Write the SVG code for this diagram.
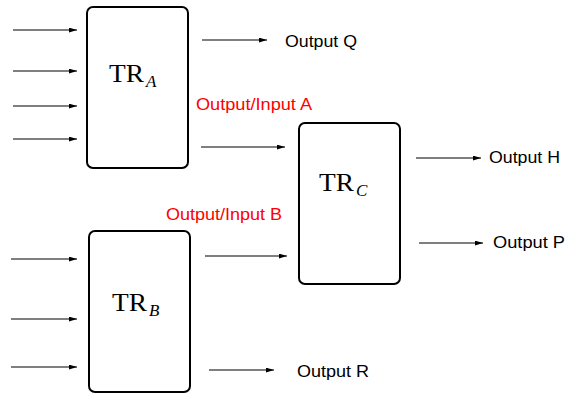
<svg xmlns="http://www.w3.org/2000/svg" width="565" height="394" viewBox="0 0 565 394">
<style>
.box{fill:#fff;stroke:#000;stroke-width:2}
.c line{stroke:#000;stroke-width:1.2}
.lbl{font-family:"Liberation Sans",Arial,sans-serif;font-size:16px;fill:#000}
.red{fill:#ff0000}
.tr{font-family:"Liberation Serif","DejaVu Serif",serif;font-size:26px;fill:#000}
.sub{font-family:"Liberation Serif","DejaVu Serif",serif;font-style:italic;font-size:17px}
</style>
<defs>
<marker id="ah" viewBox="0 0 10 6" refX="10" refY="3" markerWidth="8" markerHeight="5" markerUnits="userSpaceOnUse" orient="auto">
<path d="M0,0L10,3L0,6z" fill="#000"/>
</marker>
</defs>
<g id="nodeA">
<rect class="box" x="87" y="7" width="101" height="161" rx="6"/>
<text class="tr" x="109" y="82" textLength="35" lengthAdjust="spacingAndGlyphs">TR</text>
<text class="sub" x="146" y="87">A</text>
</g>
<g id="nodeB">
<rect class="box" x="89" y="231" width="101" height="161" rx="6"/>
<text class="tr" x="112" y="311" textLength="35" lengthAdjust="spacingAndGlyphs">TR</text>
<text class="sub" x="149" y="316">B</text>
</g>
<g id="nodeC">
<rect class="box" x="299" y="123" width="101" height="161" rx="6"/>
<text class="tr" x="319" y="191" textLength="35" lengthAdjust="spacingAndGlyphs">TR</text>
<text class="sub" x="356" y="196">C</text>
</g>
<g id="connectors" class="c">
<line x1="13" y1="30" x2="77" y2="30" marker-end="url(#ah)"/>
<line x1="13" y1="71" x2="77" y2="71" marker-end="url(#ah)"/>
<line x1="13" y1="106" x2="77" y2="106" marker-end="url(#ah)"/>
<line x1="13" y1="139" x2="77" y2="139" marker-end="url(#ah)"/>
<line x1="11" y1="259" x2="77" y2="259" marker-end="url(#ah)"/>
<line x1="11" y1="319" x2="77" y2="319" marker-end="url(#ah)"/>
<line x1="11" y1="367" x2="77" y2="367" marker-end="url(#ah)"/>
<line x1="202" y1="40" x2="267" y2="40" marker-end="url(#ah)"/>
<line x1="201" y1="147" x2="285" y2="147" marker-end="url(#ah)"/>
<line x1="205" y1="256" x2="287" y2="256" marker-end="url(#ah)"/>
<line x1="416" y1="158" x2="481" y2="158" marker-end="url(#ah)"/>
<line x1="419" y1="243" x2="483" y2="243" marker-end="url(#ah)"/>
<line x1="209" y1="370" x2="274" y2="370" marker-end="url(#ah)"/>
</g>
<g id="labels">
<text class="lbl" x="285" y="47" textLength="72" lengthAdjust="spacingAndGlyphs">Output Q</text>
<text class="lbl red" x="196" y="110" textLength="116" lengthAdjust="spacingAndGlyphs">Output/Input A</text>
<text class="lbl red" x="166" y="220" textLength="116" lengthAdjust="spacingAndGlyphs">Output/Input B</text>
<text class="lbl" x="489" y="163" textLength="71" lengthAdjust="spacingAndGlyphs">Output H</text>
<text class="lbl" x="493" y="248" textLength="72" lengthAdjust="spacingAndGlyphs">Output P</text>
<text class="lbl" x="297" y="377" textLength="72" lengthAdjust="spacingAndGlyphs">Output R</text>
</g>
</svg>
